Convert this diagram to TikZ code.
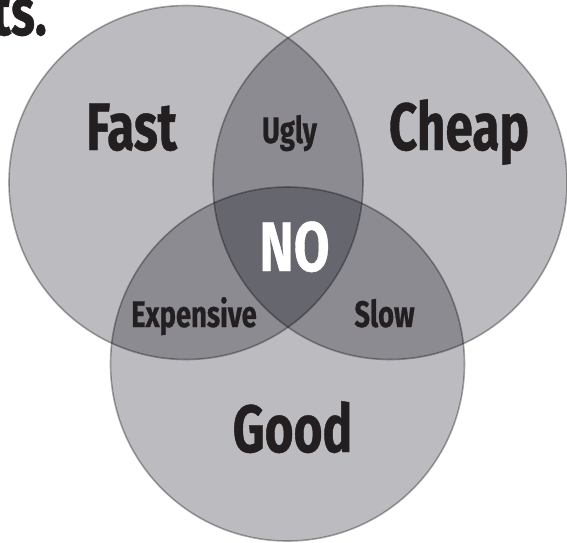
\documentclass[tikz,border=0pt]{standalone}
\usepackage{fontspec}
\newfontfamily\vfont{Fira Sans}[FakeStretch=0.74,FakeBold=0.6]
\definecolor{ink}{RGB}{35,31,32}
\definecolor{shade}{RGB}{4,4,18}
\begin{document}
\begin{tikzpicture}[x=1pt,y=-1pt,
  venn/.style={circle,minimum size=354pt,inner sep=0pt,fill=shade,fill opacity=0.265,draw=black,draw opacity=0.33,line width=1.6pt},
  lbl/.style={inner sep=0pt,anchor=base,text=ink,font=\vfont\bfseries},
  big/.style={lbl,font=\vfont\bfseries\fontsize{67}{67}\selectfont},
  small/.style={lbl,font=\vfont\bfseries\fontsize{37}{37}\selectfont}]
\useasboundingbox (0,0) rectangle (567,542);
\node[venn] (cfast) at (186,182.5) {};
\node[venn] (ccheap) at (390,182.5) {};
\node[venn] (cgood) at (287.5,364) {};
\node[big,anchor=base east] (ts) at (47,35) {ts.};
\node[big] (fast) at (131.5,150) {Fast};
\node[big] (cheap) at (459,150) {Cheap};
\node[big] (good) at (292.5,452) {Good};
\node[big,text=white,font=\vfont\bfseries\fontsize{70}{70}\selectfont] (no) at (294.5,271) {NO};
\node[small] (ugly) at (289.5,143) {Ugly};
\node[small] (exp) at (194,327) {Expensive};
\node[small] (slow) at (384.5,327) {Slow};
\end{tikzpicture}
\end{document}
